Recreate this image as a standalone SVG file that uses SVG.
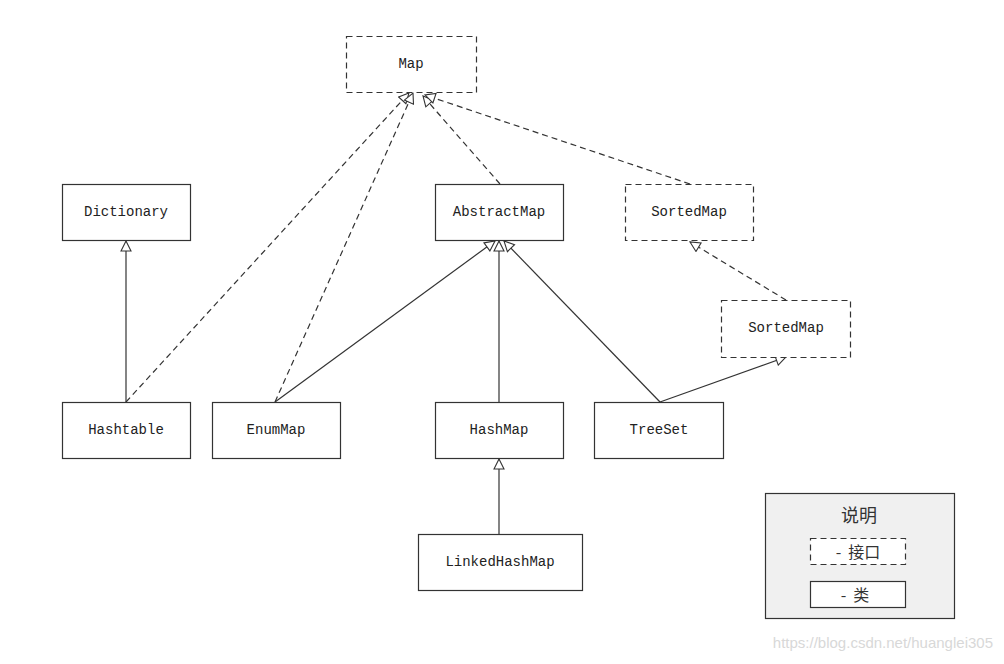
<svg xmlns="http://www.w3.org/2000/svg" width="1004" height="664" viewBox="0 0 1004 664">
<style>
.box{fill:#fff;stroke:#333;stroke-width:1.2}
.iface{fill:#fff;stroke:#333;stroke-width:1.2;stroke-dasharray:6 4}
.lbl{font-family:"Liberation Mono","DejaVu Sans Mono",monospace;font-size:14px;fill:#222;text-anchor:middle;dominant-baseline:central}
.ext{stroke:#333;stroke-width:1.2;fill:none;marker-end:url(#tri)}
.impl{stroke:#333;stroke-width:1.2;fill:none;stroke-dasharray:6 4;marker-end:url(#tri)}
.cjk{font-family:"Noto Sans CJK SC","Noto Sans",sans-serif;fill:#333;text-anchor:middle;dominant-baseline:central}
</style>
<defs>
<marker id="tri" viewBox="0 0 12 12" refX="11" refY="6" markerWidth="12" markerHeight="12" markerUnits="userSpaceOnUse" orient="auto">
<path d="M1,1 L11,6 L1,11 Z" fill="#fff" stroke="#333" stroke-width="1.1" stroke-dasharray="none"/>
</marker>
</defs>
<rect width="1004" height="664" fill="#fff"/>
<g id="connectors">
<line class="ext" x1="126" y1="402" x2="126" y2="241"/>
<line class="impl" x1="126" y1="402" x2="409" y2="93"/>
<line class="impl" x1="275" y1="402" x2="413" y2="93"/>
<line class="ext" x1="275" y1="402" x2="495" y2="241"/>
<line class="impl" x1="500" y1="184" x2="423" y2="96"/>
<line class="impl" x1="690" y1="184" x2="425" y2="95"/>
<line class="ext" x1="499" y1="402" x2="499" y2="241"/>
<line class="ext" x1="660" y1="402" x2="504" y2="241"/>
<line class="ext" x1="660" y1="402" x2="786" y2="357"/>
<line class="impl" x1="786" y1="300" x2="690" y2="242"/>
<line class="ext" x1="499" y1="534" x2="499" y2="459"/>
</g>
<g id="node-map"><rect class="iface" x="346.5" y="36.5" width="130" height="56"/><text class="lbl" x="411" y="64">Map</text></g>
<g id="node-dictionary"><rect class="box" x="62.5" y="184.5" width="128" height="56"/><text class="lbl" x="126" y="212">Dictionary</text></g>
<g id="node-abstractmap"><rect class="box" x="435.5" y="184.5" width="128" height="56"/><text class="lbl" x="499" y="212">AbstractMap</text></g>
<g id="node-sortedmap1"><rect class="iface" x="625.5" y="184.5" width="128" height="56"/><text class="lbl" x="689" y="212">SortedMap</text></g>
<g id="node-sortedmap2"><rect class="iface" x="721.5" y="300.5" width="129" height="57"/><text class="lbl" x="786" y="328">SortedMap</text></g>
<g id="node-hashtable"><rect class="box" x="62.5" y="402.5" width="128" height="56"/><text class="lbl" x="126" y="430">Hashtable</text></g>
<g id="node-enummap"><rect class="box" x="212.5" y="402.5" width="128" height="56"/><text class="lbl" x="276" y="430">EnumMap</text></g>
<g id="node-hashmap"><rect class="box" x="435.5" y="402.5" width="128" height="56"/><text class="lbl" x="499" y="430">HashMap</text></g>
<g id="node-treeset"><rect class="box" x="594.5" y="402.5" width="129" height="56"/><text class="lbl" x="659" y="430">TreeSet</text></g>
<g id="node-linkedhashmap"><rect class="box" x="418.5" y="534.5" width="164" height="56"/><text class="lbl" x="500" y="562">LinkedHashMap</text></g>
<g id="legend">
<rect x="765.5" y="493.5" width="189" height="125" fill="#f0f0f0" stroke="#333" stroke-width="1.2"/>
<text class="cjk" x="859" y="514" font-size="18">说明</text>
<rect class="iface" x="810.5" y="538.5" width="95" height="26"/>
<text class="cjk" x="858" y="551" font-size="16" xml:space="preserve">-  接口</text>
<rect class="box" x="810.5" y="581.5" width="95" height="26"/>
<text class="cjk" x="855" y="594" font-size="16" xml:space="preserve">-  类</text>
</g>
<text x="993" y="648" font-family="Liberation Sans,Arial,sans-serif" font-size="15" fill="#d8d8d8" text-anchor="end">https://blog.csdn.net/huanglei305</text>
</svg>
